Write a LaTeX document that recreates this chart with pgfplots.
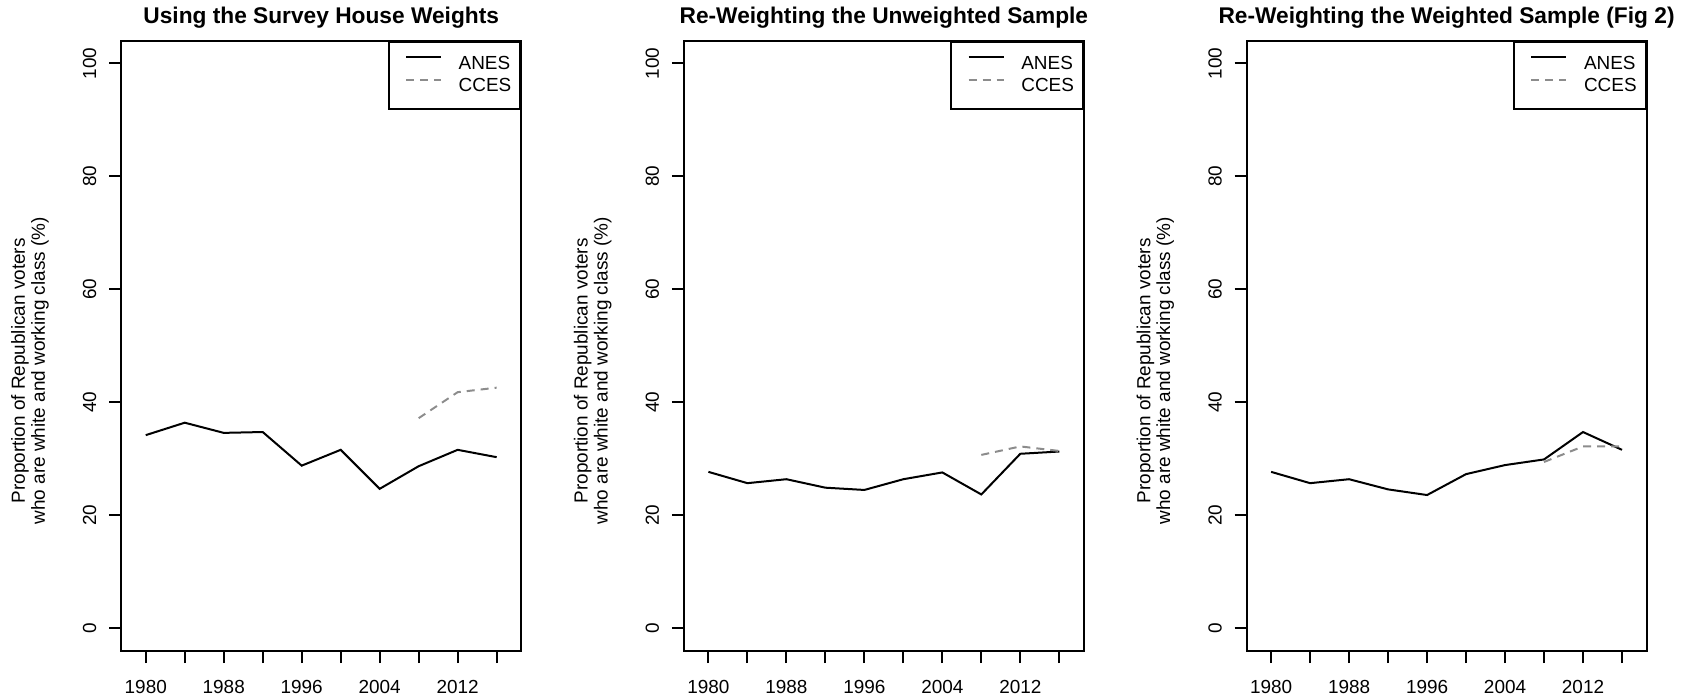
\documentclass[border=0pt]{standalone}
\usepackage{fontspec}
\setmainfont{Liberation Sans}
\usepackage{pgfplots}
\pgfplotsset{compat=1.18}
\definecolor{ccesgray}{RGB}{140,140,140}
\pgfplotsset{
  rpanel/.style={
    scale only axis, width=200bp, height=305.15bp,
    xmin=1977.48, xmax=2018.52, ymin=-4, ymax=104,
    axis line style={line width=1bp},
    every tick/.style={black, line width=1bp},
    tick align=outside, major tick length=6bp,
    xtick={1980,1984,...,2016},
    xticklabels={1980,,1988,,1996,,2004,,2012,},
    ytick={0,20,...,100},
    xtick pos=bottom, ytick pos=left,
    tick label style={font=\fontsize{9.5}{11}\selectfont},
    /pgf/number format/assume math mode=true,
    yticklabel style={rotate=90, anchor=south},
    yticklabel shift=2.9bp,
    xticklabel shift=4.9bp,
    every axis title/.style={font=\bfseries\fontsize{11.4}{13}\selectfont, at={(0.5,1)}, anchor=base, yshift=8.35bp},
    every axis y label/.style={at={(axis description cs:-0.228,0.459)}, rotate=90, anchor=center,
      align=center, font=\fontsize{9.5}{10}\selectfont},
    ylabel={Proportion of Republican voters\\who are white and working class (\%)},
    legend style={at={(1,1)}, anchor=north east, draw=black, line width=1bp,
      inner xsep=4.45bp, inner ysep=7.2bp, row sep=3.1bp, column sep=8.35bp,
      font=\fontsize{9.5}{11}\selectfont, nodes={inner sep=0pt}},
    legend cell align=left,
    legend image code/.code={\path (0bp,0bp); \draw[##1] (3.7bp,3.4bp) -- (21.2bp,3.4bp);},
    clip=false,
  },
  anes/.style={black, line width=1bp},
  cces/.style={ccesgray, line width=1bp, dash pattern=on 4bp off 3bp},
}
\begin{document}
\begin{tikzpicture}
\path[use as bounding box] (0,0) rectangle (844bp,349.5bp);
\begin{axis}[rpanel, at={(60.6bp,24bp)}, anchor=south west,
  title={Using the Survey House Weights}]
\addplot[anes] coordinates {(1980,34.2) (1984,36.4) (1988,34.6) (1992,34.75) (1996,28.8) (2000,31.6) (2004,24.7) (2008,28.7) (2012,31.6) (2016,30.3)};
\addplot[cces] coordinates {(2008,37.2) (2012,41.8) (2016,42.6)};
\legend{ANES,CCES}
\end{axis}
\begin{axis}[rpanel, at={(341.93bp,24bp)}, anchor=south west,
  title={Re-Weighting the Unweighted Sample}]
\addplot[anes] coordinates {(1980,27.7) (1984,25.7) (1988,26.4) (1992,24.9) (1996,24.5) (2000,26.4) (2004,27.6) (2008,23.7) (2012,30.9) (2016,31.3)};
\addplot[cces] coordinates {(2008,30.7) (2012,32.2) (2016,31.4)};
\legend{ANES,CCES}
\end{axis}
\begin{axis}[rpanel, at={(623.27bp,24bp)}, anchor=south west,
  title={Re-Weighting the Weighted Sample (Fig 2)}]
\addplot[anes] coordinates {(1980,27.7) (1984,25.7) (1988,26.4) (1992,24.6) (1996,23.6) (2000,27.3) (2004,28.9) (2008,29.9) (2012,34.75) (2016,31.6)};
\addplot[cces] coordinates {(2008,29.45) (2012,32.2) (2016,32.2)};
\legend{ANES,CCES}
\end{axis}
\end{tikzpicture}
\end{document}
